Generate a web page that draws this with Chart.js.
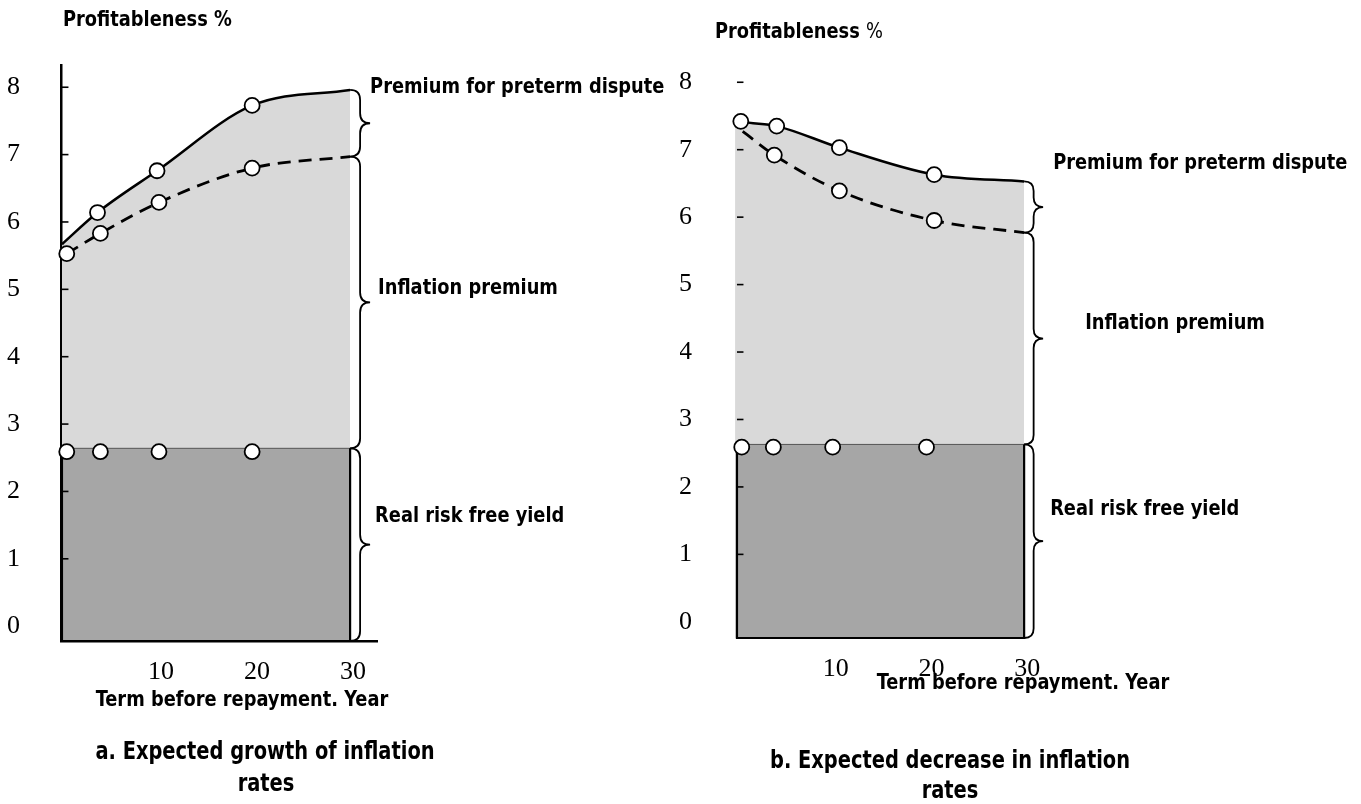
<!DOCTYPE html>
<html>
<head>
<meta charset="utf-8">
<title>Profitableness and term before repayment</title>
<script src="https://cdn.jsdelivr.net/npm/chart.js@4.4.1/dist/chart.umd.min.js"></script>
<style>
    html, body { margin: 0; padding: 0; background: #fff; }
    .panel { position: absolute; top: 0; height: 804px; }
    #panelA { left: 0; width: 680px; }
    #panelB { left: 680px; width: 681px; }
</style>
</head>
<body>
<div class="panel" id="panelA"><canvas id="chartA"></canvas></div>
<div class="panel" id="panelB"><canvas id="chartB"></canvas></div>
<script>
// Axis ticks shared by both panels
const xTicks = [10, 20, 30];
const yTicks = [0, 1, 2, 3, 4, 5, 6, 7, 8];
const termEnd = 30;

// a. Expected growth of inflation rates (years, yield %)
const aTopYears = [0, 3.7, 9.9, 19.8, 30];
const aTopRates = [5.67, 6.14, 6.76, 7.73, 7.96];
const aTopCircles = [1, 2, 3];
const aDashYears = [0.5, 4, 10.1, 19.8, 30];
const aDashRates = [5.53, 5.83, 6.29, 6.8, 6.97];
const aDashCircles = [0, 1, 2, 3];
const aRealYears = [0.5, 4, 10.1, 19.8];
const aRealRates = [2.59, 2.59, 2.59, 2.59];
const aRealLevel = 2.64;

// b. Expected decrease in inflation rates
const bTopYears = [-0.2, 0.4, 4.15, 10.7, 20.6, 30];
const bTopRates = [7.45, 7.42, 7.35, 7.03, 6.63, 6.53];
const bTopCircles = [1, 2, 3, 4];
const bDashYears = [0.6, 3.9, 10.7, 20.6, 30];
const bDashRates = [7.27, 6.92, 6.39, 5.95, 5.77];
const bDashCircles = [1, 2, 3];
const bRealYears = [0.5, 3.8, 10, 19.8];
const bRealRates = [2.59, 2.59, 2.59, 2.59];
const bRealLevel = 2.63;

const braceLabels = ['Premium for preterm dispute', 'Inflation premium', 'Real risk free yield'];

const LIGHT = '#d9d9d9';
const DARK = '#a6a6a6';
const SERIF = '"Liberation Serif", "Times New Roman", serif';
const NARROW = '"Liberation Sans Narrow", "Arial Narrow", "DejaVu Sans Condensed", "Liberation Sans", sans-serif';
const LABEL_SIZE = 22;
const SQUEEZE = 0.9; // the scan's captions use a condensed face

const pts = (xs, ys) => xs.map((x, i) => ({ x, y: ys[i] }));

function textWidth(ctx, text, size, weight) {
    ctx.font = `${weight} ${size}px ${NARROW}`;
    return ctx.measureText(text).width * SQUEEZE;
}

function condensedText(ctx, text, x, y, size, weight) {
    ctx.save();
    ctx.font = `${weight} ${size}px ${NARROW}`;
    ctx.translate(x, y);
    ctx.scale(SQUEEZE, 1);
    ctx.fillText(text, 0, 0);
    ctx.restore();
}

function drawBrace(ctx, x, y1, y2, w) {
    const xm = x + w / 2;
    const ym = (y1 + y2) / 2;
    const r = Math.min(w / 2, (y2 - y1) / 4);
    ctx.beginPath();
    ctx.moveTo(x, y1);
    ctx.quadraticCurveTo(xm, y1, xm, y1 + r);
    ctx.lineTo(xm, ym - r);
    ctx.quadraticCurveTo(xm, ym, x + w, ym);
    ctx.quadraticCurveTo(xm, ym, xm, ym + r);
    ctx.lineTo(xm, y2 - r);
    ctx.quadraticCurveTo(xm, y2, x, y2);
    ctx.stroke();
}

// Inner tick marks, braces with their labels, and the free text of each panel.
const decorations = {
    id: 'decorations',
    afterDatasetsDraw(chart, args, o) {
        const { ctx, scales: { x, y } } = chart;
        ctx.save();
        ctx.strokeStyle = '#000';
        ctx.lineWidth = 1.6;
        const tx = x.getPixelForValue(0);
        yTicks.filter((v) => v > 0).forEach((v) => {
            const py = y.getPixelForValue(v);
            ctx.beginPath();
            ctx.moveTo(tx, py);
            ctx.lineTo(tx + 6.5, py);
            ctx.stroke();
        });

        const levels = [o.topRates[o.topRates.length - 1], o.dashRates[o.dashRates.length - 1], o.realLevel, y.min];
        const bx = x.getPixelForValue(termEnd);
        ctx.lineWidth = 1.8;
        ctx.fillStyle = '#000';
        ctx.textBaseline = 'middle';
        ctx.textAlign = 'left';
        braceLabels.forEach((label, i) => {
            const y1 = y.getPixelForValue(levels[i]);
            const y2 = y.getPixelForValue(levels[i + 1]);
            drawBrace(ctx, bx, y1, y2, o.braceWidth);
            const [dx, dy] = o.labelOffsets[i];
            condensedText(ctx, label, bx + o.braceWidth + dx, (y1 + y2) / 2 + dy, LABEL_SIZE, 'bold');
        });
        ctx.restore();
    },
    afterDraw(chart, args, o) {
        const { ctx } = chart;
        ctx.save();
        ctx.fillStyle = '#000';
        ctx.textBaseline = 'middle';
        ctx.textAlign = 'left';
        o.texts.forEach((t) => {
            const size = t.size || LABEL_SIZE;
            const parts = t.parts || [{ text: t.text, weight: 'bold' }];
            const widths = parts.map((p) => textWidth(ctx, p.text, size, p.weight));
            const total = widths.reduce((a, b) => a + b, 0);
            let px = t.align === 'center' ? t.x - total / 2 : t.x;
            parts.forEach((p, i) => {
                condensedText(ctx, p.text, px, t.y, size, p.weight);
                px += widths[i];
            });
        });
        ctx.restore();
    },
};

function makeChart(p) {
    const circle = (list) => (c) => (list.includes(c.dataIndex) ? 7.5 : 0);
    const marker = { pointBackgroundColor: '#fff', pointBorderColor: '#000', pointBorderWidth: 1.8 };
    const yMin = p.y.min;

    new Chart(document.getElementById(p.canvas), {
        type: 'line',
        data: {
            datasets: [
                {
                    data: pts(p.topYears, p.topRates),
                    order: 5,
                    borderColor: '#000',
                    borderWidth: 2.5,
                    fill: 'start',
                    backgroundColor: LIGHT,
                    cubicInterpolationMode: 'monotone',
                    pointRadius: circle(p.topCircles),
                    ...marker,
                },
                {
                    data: [{ x: 0, y: p.realLevel }, { x: termEnd, y: p.realLevel }],
                    order: 4,
                    borderColor: '#555',
                    borderWidth: 1,
                    fill: 'start',
                    backgroundColor: DARK,
                    pointRadius: 0,
                },
                {
                    data: [
                        { x: 0, y: p.realLevel }, { x: 0, y: yMin },
                        { x: termEnd, y: yMin }, { x: termEnd, y: p.realLevel },
                    ],
                    order: 3,
                    borderColor: '#000',
                    borderWidth: 2.2,
                    fill: false,
                    pointRadius: 0,
                },
                {
                    data: pts(p.realYears, p.realRates),
                    order: 2,
                    showLine: false,
                    pointRadius: 7.5,
                    ...marker,
                },
                {
                    data: pts(p.dashYears, p.dashRates),
                    order: 1,
                    borderColor: '#000',
                    borderWidth: 2.8,
                    borderDash: [13, 8],
                    fill: false,
                    cubicInterpolationMode: 'monotone',
                    pointRadius: circle(p.dashCircles),
                    ...marker,
                },
            ],
        },
        options: {
            responsive: true,
            maintainAspectRatio: false,
            animation: false,
            events: [],
            clip: false,
            layout: { padding: { top: p.padding.top, right: p.padding.right, left: 0, bottom: 0 } },
            plugins: {
                legend: { display: false },
                tooltip: { enabled: false },
                decorations: p,
            },
            scales: {
                x: {
                    type: 'linear',
                    min: p.x.min,
                    max: p.x.max,
                    afterBuildTicks: (s) => { s.ticks = xTicks.map((value) => ({ value })); },
                    afterFit: (s) => { s.height = p.xHeight; },
                    grid: { display: false },
                    border: { display: p.xBorder, color: '#000', width: 2.5 },
                    ticks: {
                        color: '#000',
                        font: { family: SERIF, size: 26 },
                        padding: 8,
                        labelOffset: 3,
                        maxRotation: 0,
                        autoSkip: false,
                    },
                },
                y: {
                    type: 'linear',
                    min: p.y.min,
                    max: p.y.max,
                    afterBuildTicks: (s) => { s.ticks = yTicks.map((value) => ({ value })); },
                    afterFit: (s) => { s.width = p.yWidth; },
                    grid: { display: false },
                    border: { display: p.yBorder, color: '#000', width: 2.5 },
                    ticks: {
                        color: '#000',
                        font: { family: SERIF, size: 26 },
                        padding: p.tickPad,
                        autoSkip: false,
                    },
                },
            },
        },
        plugins: [decorations],
    });
}

makeChart({
    canvas: 'chartA',
    topYears: aTopYears, topRates: aTopRates, topCircles: aTopCircles,
    dashYears: aDashYears, dashRates: aDashRates, dashCircles: aDashCircles,
    realYears: aRealYears, realRates: aRealRates, realLevel: aRealLevel,
    x: { min: -0.1, max: 32.8 },
    y: { min: -0.22, max: 8.33 },
    padding: { top: 65, right: 303 },
    yWidth: 61, xHeight: 163, tickPad: 33,
    xBorder: true, yBorder: true,
    braceWidth: 20,
    labelOffsets: [[0, -36], [8, -14], [5, -28]],
    texts: [
        { text: 'Profitableness %', x: 63, y: 20 },
        { text: 'Term before repayment. Year', x: 242, y: 700, align: 'center' },
        { text: 'a. Expected growth of inflation', x: 265, y: 753, align: 'center', size: 24 },
        { text: 'rates', x: 266, y: 785, align: 'center', size: 24 },
    ],
});

makeChart({
    canvas: 'chartB',
    topYears: bTopYears, topRates: bTopRates, topCircles: bTopCircles,
    dashYears: bDashYears, dashRates: bDashRates, dashCircles: bDashCircles,
    realYears: bRealYears, realRates: bRealRates, realLevel: bRealLevel,
    x: { min: -0.31, max: 30.3 },
    y: { min: -0.24, max: 8.33 },
    padding: { top: 60, right: 334 },
    yWidth: 54, xHeight: 166, tickPad: 34,
    xBorder: false, yBorder: false,
    braceWidth: 19,
    labelOffsets: [[10, -44], [42, -15], [7, -32]],
    texts: [
        { parts: [{ text: 'Profitableness ', weight: 'bold' }, { text: '%', weight: 'normal' }], x: 35, y: 32 },
        { text: 'Term before repayment. Year', x: 343, y: 683, align: 'center' },
        { text: 'b. Expected decrease in inflation', x: 270, y: 762, align: 'center', size: 24 },
        { text: 'rates', x: 270, y: 792, align: 'center', size: 24 },
    ],
});
</script>
</body>
</html>
